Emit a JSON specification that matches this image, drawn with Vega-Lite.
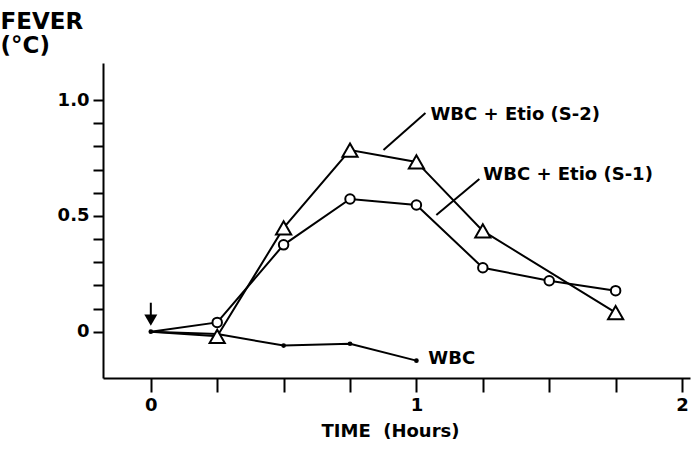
{
  "$schema": "https://vega.github.io/schema/vega-lite/v6.json",
  "width": 587,
  "height": 315,
  "autosize": "none",
  "padding": {"left": 103, "top": 63, "right": 7, "bottom": 89},
  "background": "white",
  "config": {"view": {"stroke": null}, "font": "DejaVu Sans"},
  "datasets": {
    "series": [
      {"series": "WBC", "t": 0, "v": 0},
      {"series": "WBC", "t": 0.25, "v": -0.01},
      {"series": "WBC", "t": 0.5, "v": -0.06},
      {"series": "WBC", "t": 0.75, "v": -0.052},
      {"series": "WBC", "t": 1.0, "v": -0.125},
      {"series": "S-1", "t": 0, "v": 0},
      {"series": "S-1", "t": 0.25, "v": 0.04},
      {"series": "S-1", "t": 0.5, "v": 0.375},
      {"series": "S-1", "t": 0.75, "v": 0.573},
      {"series": "S-1", "t": 1.0, "v": 0.547},
      {"series": "S-1", "t": 1.25, "v": 0.276},
      {"series": "S-1", "t": 1.5, "v": 0.22},
      {"series": "S-1", "t": 1.75, "v": 0.177},
      {"series": "S-2", "t": 0, "v": 0},
      {"series": "S-2", "t": 0.25, "v": -0.02},
      {"series": "S-2", "t": 0.5, "v": 0.448},
      {"series": "S-2", "t": 0.75, "v": 0.784},
      {"series": "S-2", "t": 1.0, "v": 0.733},
      {"series": "S-2", "t": 1.25, "v": 0.435},
      {"series": "S-2", "t": 1.75, "v": 0.082}
    ],
    "labels": [
      {"t": 1.053, "v": 0.935, "text": "WBC + Etio (S-2)"},
      {"t": 1.252, "v": 0.677, "text": "WBC + Etio (S-1)"},
      {"t": 1.045, "v": -0.12, "text": "WBC"}
    ],
    "leaders": [
      {"t": 0.876, "v": 0.784, "t2": 1.034, "v2": 0.944},
      {"t": 1.075, "v": 0.504, "t2": 1.237, "v2": 0.659},
      {"t": 0, "v": 0.125, "t2": 0, "v2": 0.06}
    ],
    "arrow": [
      {"t": 0, "v": 0.05}
    ]
  },
  "encoding": {
    "x": {
      "field": "t",
      "type": "quantitative",
      "scale": {"domain": [-0.18, 2.03], "nice": false, "zero": false},
      "axis": {
        "title": "TIME\u00a0\u00a0(Hours)",
        "titleFontSize": 18,
        "titleFontWeight": "bold",
        "titleColor": "black",
        "titleX": 287,
        "titleY": 53,
        "titleBaseline": "middle",
        "titleAlign": "center",
        "values": [0, 0.25, 0.5, 0.75, 1, 1.25, 1.5, 1.75, 2],
        "labelExpr": "datum.value == 0 ? '0' : datum.value == 1 ? '1' : datum.value == 2 ? '2' : ''",
        "labelFontSize": 18,
        "labelFontWeight": "bold",
        "labelColor": "black",
        "labelPadding": 4,
        "tickSize": 14,
        "tickWidth": 2,
        "tickColor": "black",
        "domainColor": "black",
        "domainWidth": 2,
        "grid": false
      }
    },
    "y": {
      "field": "v",
      "type": "quantitative",
      "scale": {"domain": [-0.2, 1.16], "nice": false, "zero": false},
      "axis": {
        "title": ["FEVER", "\u00a0(°C)"],
        "titleFontSize": 23,
        "titleFontWeight": "bold",
        "titleColor": "black",
        "titleAngle": 0,
        "titleAlign": "left",
        "titleBaseline": "middle",
        "titleLineHeight": 24,
        "titleX": -103,
        "titleY": -42,
        "values": [0, 0.1, 0.2, 0.3, 0.4, 0.5, 0.6, 0.7, 0.8, 0.9, 1.0],
        "labelExpr": "datum.value == 0 ? '0' : datum.value == 0.5 ? '0.5' : datum.value == 1 ? '1.0' : ''",
        "labelFontSize": 18,
        "labelFontWeight": "bold",
        "labelColor": "black",
        "labelPadding": 4,
        "tickSize": 10,
        "tickWidth": 2,
        "tickColor": "black",
        "domainColor": "black",
        "domainWidth": 2,
        "grid": false
      }
    }
  },
  "layer": [
    {
      "data": {"name": "series"},
      "mark": {"type": "line", "color": "black", "strokeWidth": 2},
      "encoding": {"detail": {"field": "series"}}
    },
    {
      "data": {"name": "series"},
      "transform": [{"filter": "datum.series == 'WBC'"}],
      "mark": {"type": "point", "shape": "circle", "filled": true, "color": "black", "size": 22, "opacity": 1}
    },
    {
      "data": {"name": "series"},
      "transform": [{"filter": "datum.series == 'S-1' && datum.t > 0"}],
      "mark": {"type": "point", "shape": "circle", "fill": "white", "stroke": "black", "strokeWidth": 2, "size": 90, "opacity": 1, "fillOpacity": 1}
    },
    {
      "data": {"name": "series"},
      "transform": [{"filter": "datum.series == 'S-2' && datum.t > 0"}],
      "mark": {"type": "point", "shape": "triangle-up", "fill": "white", "stroke": "black", "strokeWidth": 2, "size": 230, "opacity": 1, "fillOpacity": 1}
    },
    {
      "data": {"name": "leaders"},
      "mark": {"type": "rule", "color": "black", "strokeWidth": 2},
      "encoding": {
        "x2": {"field": "t2"},
        "y2": {"field": "v2"}
      }
    },
    {
      "data": {"name": "arrow"},
      "mark": {"type": "point", "shape": "triangle-down", "filled": true, "color": "black", "size": 170, "opacity": 1}
    },
    {
      "data": {"name": "labels"},
      "mark": {"type": "text", "align": "left", "baseline": "middle", "fontSize": 18, "fontWeight": "bold", "color": "black"},
      "encoding": {"text": {"field": "text"}}
    }
  ]
}
